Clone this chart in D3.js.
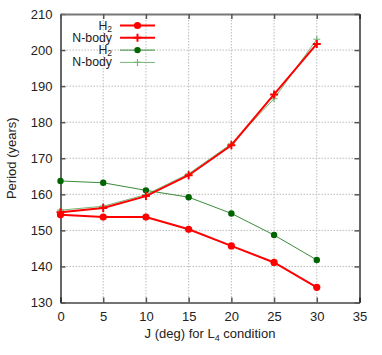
<!DOCTYPE html>
<html>
<head>
<meta charset="utf-8">
<script src="https://cdn.jsdelivr.net/npm/d3@7"></script>
<style>
body { margin: 0; background: #fff; }
text { font-family: "Liberation Sans", Arial, sans-serif; fill: #222; }
.tick text { font-size: 13px; }
.grid line { stroke: #bbb; stroke-dasharray: 1.5,1.5; }
</style>
</head>
<body>
<script>
// Chart values
const jDeg = [0, 5, 10, 15, 20, 25, 30];
const h2Red = [154.3, 153.7, 153.7, 150.3, 145.7, 141.1, 134.2];
const nbodyRed = [155.0, 156.2, 159.5, 165.3, 173.6, 187.7, 201.7];
const h2Green = [163.7, 163.2, 161.1, 159.2, 154.7, 148.7, 141.8];
const nbodyGreen = [155.6, 156.7, 159.9, 165.7, 174.0, 186.5, 203.0];
const xTicks = [0, 5, 10, 15, 20, 25, 30, 35];
const yTicks = [130, 140, 150, 160, 170, 180, 190, 200, 210];

const width = 382, height = 355;
const mLeft = 60.5, mRight = 359.5, mTop = 14, mBottom = 302.5;

const svg = d3.select("body").append("svg")
    .attr("width", width)
    .attr("height", height);

const xScale = d3.scaleLinear().domain([0, 35]).range([mLeft, mRight]);
const yScale = d3.scaleLinear().domain([130, 210]).range([mBottom, mTop]);

//grid
svg.append("g").attr("class", "grid")
    .selectAll("line").data(xTicks.slice(1, -1)).join("line")
    .attr("x1", d => xScale(d)).attr("x2", d => xScale(d))
    .attr("y1", mTop).attr("y2", mBottom);
svg.append("g").attr("class", "grid")
    .selectAll("line").data(yTicks.slice(1, -1)).join("line")
    .attr("x1", mLeft).attr("x2", mRight)
    .attr("y1", d => yScale(d)).attr("y2", d => yScale(d));

//axes with tick labels
const bottomAxis = d3.axisBottom(xScale).tickValues(xTicks).tickSizeInner(-5).tickSizeOuter(0).tickPadding(9);
const leftAxis = d3.axisLeft(yScale).tickValues(yTicks).tickSizeInner(-5).tickSizeOuter(0).tickPadding(8);
const topAxis = d3.axisTop(xScale).tickValues(xTicks).tickSizeInner(-5).tickSizeOuter(0).tickFormat("");
const rightAxis = d3.axisRight(yScale).tickValues(yTicks).tickSizeInner(-5).tickSizeOuter(0).tickFormat("");

svg.append("g").attr("transform", `translate(0,${mBottom})`).call(bottomAxis)
    .call(g => g.select(".domain").attr("stroke", "#444").attr("stroke-width", 1.5));
svg.append("g").attr("transform", `translate(${mLeft},0)`).call(leftAxis)
    .call(g => g.select(".domain").attr("stroke", "#000").attr("stroke-width", 1.2));
svg.append("g").attr("transform", `translate(0,${mTop})`).call(topAxis)
    .call(g => g.select(".domain").attr("stroke", "#777").attr("stroke-width", 2));
svg.append("g").attr("transform", `translate(${mRight},0)`).call(rightAxis)
    .call(g => g.select(".domain").attr("stroke", "#000").attr("stroke-width", 1.2));
svg.selectAll(".tick line").attr("stroke", "#555").attr("stroke-width", 1.5);
svg.selectAll(".tick text").attr("fill", "#222");

//series
const series = [
    { name: "H2", vals: h2Green, color: "#3a8c3a", width: 1, marker: "dot", dotColor: "#006400", r: 3.2, opacity: 1 },
    { name: "N-body", vals: nbodyGreen, color: "#4c9c4c", width: 1, marker: "plus", dotColor: "#4c9c4c", r: 3.5, opacity: 0.75 },
    { name: "H2", vals: h2Red, color: "#ff0000", width: 2, marker: "dot", dotColor: "#ff0000", r: 3.6, opacity: 1 },
    { name: "N-body", vals: nbodyRed, color: "#ff0000", width: 2, marker: "plus", dotColor: "#ff0000", r: 4, opacity: 1 }
];

const line = d3.line().x((d, i) => xScale(jDeg[i])).y(d => yScale(d));

function drawMarker(g, x, y, s) {
    if (s.marker === "dot") {
        g.append("circle").attr("cx", x).attr("cy", y).attr("r", s.r).attr("fill", s.dotColor);
    } else {
        g.append("path")
            .attr("d", `M${x - s.r},${y}H${x + s.r}M${x},${y - s.r}V${y + s.r}`)
            .attr("stroke", s.dotColor).attr("stroke-width", s.width === 2 ? 2 : 1.2);
    }
}

series.forEach(s => {
    const g = svg.append("g").attr("opacity", s.opacity);
    g.append("path").datum(s.vals)
        .attr("d", line)
        .attr("fill", "none")
        .attr("stroke", s.color)
        .attr("stroke-width", s.width);
    s.vals.forEach((v, i) => drawMarker(g, xScale(jDeg[i]), yScale(v), s));
});

//legend (red first, as in the key)
const legendOrder = [series[2], series[3], series[0], series[1]];
legendOrder.forEach((s, i) => {
    const y = 25.5 + i * 12.3;
    const g = svg.append("g").attr("opacity", s.opacity);
    g.append("line").attr("x1", 120).attr("x2", 155).attr("y1", y).attr("y2", y)
        .attr("stroke", s.color).attr("stroke-width", s.width);
    drawMarker(g, 137.5, y, s);
    const t = svg.append("text").attr("x", 112).attr("y", y + 4)
        .attr("text-anchor", "end").style("font-size", "12.3px");
    if (s.name === "H2") {
        t.append("tspan").text("H");
        t.append("tspan").attr("dy", 2).style("font-size", "8.5px").text("2");
    } else {
        t.text(s.name);
    }
});

//axis labels
svg.append("text")
    .attr("transform", `translate(16,${(mTop + mBottom) / 2}) rotate(-90)`)
    .attr("text-anchor", "middle")
    .style("font-size", "13px")
    .text("Period (years)");

const xl = svg.append("text")
    .attr("x", (mLeft + mRight) / 2)
    .attr("y", 338)
    .attr("text-anchor", "middle")
    .style("font-size", "13px");
xl.append("tspan").text("J (deg) for L");
xl.append("tspan").attr("dy", 3).style("font-size", "9px").text("4");
xl.append("tspan").attr("dy", -3).text(" condition");
</script>
</body>
</html>
